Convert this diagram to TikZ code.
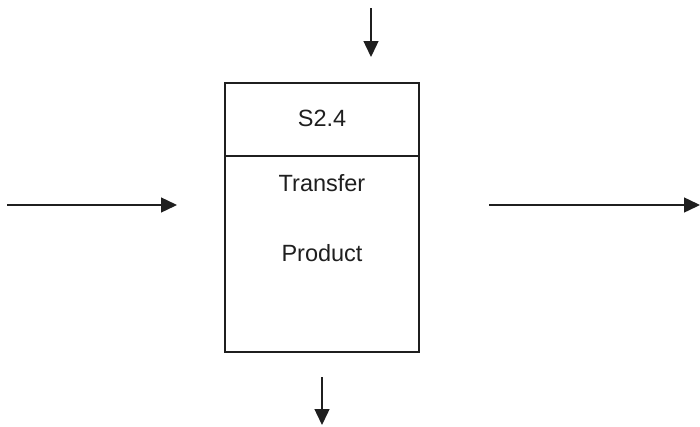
\documentclass[tikz,border=0pt]{standalone}
\usepackage{fontspec}
\setmainfont{Liberation Sans}
\usetikzlibrary{arrows.meta}
\begin{document}
\begin{tikzpicture}[x=1pt,y=-1pt,
  line/.style={line width=1.4pt,draw=black!88},
  flow/.style={line,-{Triangle[length=16pt,width=15pt]}},
  lbl/.style={font=\fontsize{23.5}{26}\selectfont,text=black!88,inner sep=0pt}]
  \useasboundingbox (0,0) rectangle (700,426);
  % process box with header strip
  \draw[line] (225,83) rectangle (419,352);
  \draw[line] (225,156) -- (419,156);
  \node[lbl] (id) at (322,118) {S2.4};
  \node[lbl] (t1) at (322,183) {Transfer};
  \node[lbl] (t2) at (322,253) {Product};
  % connector ends
  \coordinate (ctlA) at (371,8);
  \coordinate (ctlB) at (371,57);
  \coordinate (inA) at (7,205);
  \coordinate (inB) at (177,205);
  \coordinate (outA) at (489,205);
  \coordinate (outB) at (700,205);
  \coordinate (mechA) at (322,377);
  \coordinate (mechB) at (322,425);
  \draw[flow] (ctlA) -- (ctlB);
  \draw[flow] (inA) -- (inB);
  \draw[flow] (outA) -- (outB);
  \draw[flow] (mechA) -- (mechB);
\end{tikzpicture}
\end{document}
